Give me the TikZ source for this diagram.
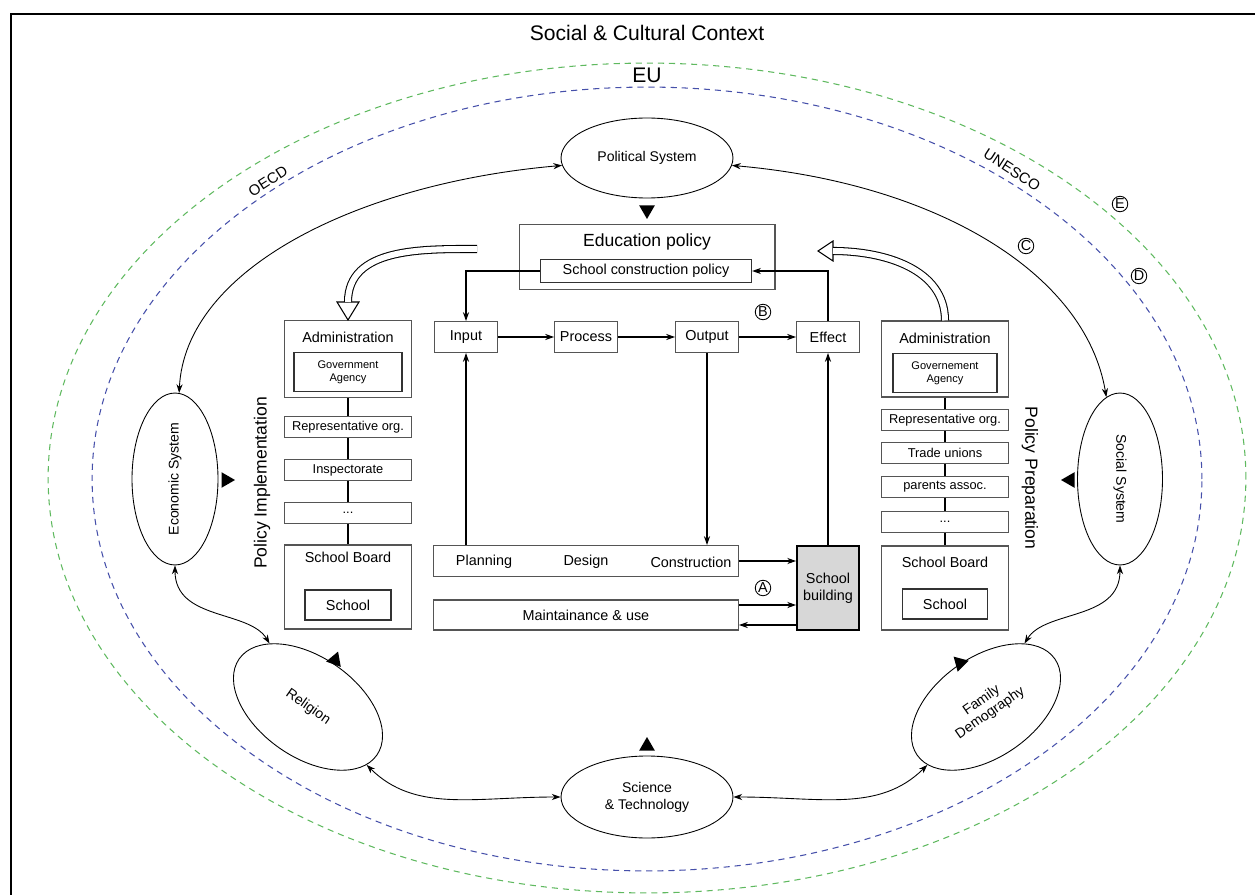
\documentclass[tikz,border=0pt]{standalone}
\usepackage{fontspec}
\setmainfont{Liberation Sans}
\usetikzlibrary{arrows.meta, positioning, shapes.geometric}
\definecolor{euGreen}{RGB}{95,185,95}
\definecolor{unBlue}{RGB}{70,80,170}
\definecolor{boxGrey}{RGB}{85,85,85}
\definecolor{buildingFill}{RGB}{215,215,215}
\def\titlesize{\fontsize{12}{14}\selectfont}
\def\headsize{\fontsize{10}{12}\selectfont}
\def\flowsize{\fontsize{8.2}{9.8}\selectfont}
\def\chainsize{\fontsize{7.3}{8.5}\selectfont}
\def\agencysize{\fontsize{6.3}{7.6}\selectfont}
\def\spheresize{\fontsize{8}{9.6}\selectfont}
\def\sidesize{\fontsize{10}{12}\selectfont}
\def\orgsize{\fontsize{8.5}{10}\selectfont}

\begin{document}
\begin{tikzpicture}[
	  x=0.02cm, y=-0.02cm,
	  box/.style={
	  	rectangle,
	  	draw=boxGrey,
	  	line width=0.6pt,
	  	inner sep=0pt,
	  	align=center
	  },
	  stage/.style={box, minimum width=1.26cm, minimum height=0.62cm, font=\flowsize},
	  chainbox/.style={box, minimum width=2.54cm, minimum height=0.41cm, font=\chainsize},
	  bigbox/.style={box, minimum width=2.54cm},
	  innerbox/.style={
		  rectangle,
		  draw=black!80,
		  line width=0.8pt,
		  inner sep=0pt,
		  align=center
	  },
	  sphere/.style={
		  ellipse,
		  draw,
		  line width=0.5pt,
		  inner sep=0pt,
		  align=center,
		  font=\spheresize
	  },
	  marker/.style={regular polygon, regular polygon sides=3, fill=black, inner sep=0pt, minimum size=0.36cm},
	  tag/.style={circle, draw, line width=0.5pt, inner sep=0pt, minimum size=0.31cm, font=\flowsize},
	  twoway/.style={{Stealth[length=5pt,width=3.5pt]}-{Stealth[length=5pt,width=3.5pt]}, line width=0.5pt},
	  flow/.style={-{Stealth[length=5pt,width=3.5pt]}, line width=0.6pt},
	  chain/.style={line width=1.1pt},
	  hollow/.style={draw=black, double=white, double distance=3.4pt, line width=0.6pt},
	  eudash/.style={euGreen, dash pattern=on 3.5pt off 2.8pt, line width=0.6pt},
	  undash/.style={unBlue, dash pattern=on 3.5pt off 2.8pt, line width=0.6pt}]
	\useasboundingbox (0,0) rectangle (1255,895);
	% Frame and context
	\draw[line width=0.9pt] (11,895) |- (1255,14);
	\node[font=\titlesize] (context) at (647,33) {Social \& Cultural Context};
	\draw[eudash] (647,478) ellipse [x radius=11.98cm, y radius=8.3cm];
	\draw[undash] (647,479) ellipse [x radius=11.1cm, y radius=7.84cm];
	\node[font=\titlesize] (eu) at (647,75) {EU};
	\node[font=\orgsize, rotate=33] (oecd) at (268,181) {OECD};
	\node[font=\orgsize, rotate=-33] (unesco) at (1012,170) {UNESCO};

	% Spheres
	\node[sphere, minimum width=3.44cm, minimum height=1.6cm] (political) at (647,158) {Political System};
	\node[sphere, minimum width=3.44cm, minimum height=1.72cm, rotate=90] (economic) at (175,479) {Economic System};
	\node[sphere, minimum width=3.44cm, minimum height=1.7cm, rotate=-90] (social) at (1120,479) {Social System};
	\node[sphere, minimum width=3.44cm, minimum height=1.64cm] (science) at (647,797) {Science\\\& Technology};
	\node[sphere, minimum width=3.36cm, minimum height=2cm, rotate=-35] (religion) at (308,707) {Religion};
	\node[sphere, minimum width=3.36cm, minimum height=2cm, rotate=35] (family) at (986,707) {Family\\[-1pt]Demography};

	\draw[twoway] (political) to[out=185,in=75] (economic);
	\draw[twoway] (political) to[out=-5,in=112] (social);
	\draw[twoway] (economic.west) to[out=-90,in=140] (religion);
	\draw[twoway] (religion) to[out=-29,in=180] (science.west);
	\draw[twoway] (science.east) to[out=0,in=-151] (family);
	\draw[twoway] (family) to[out=40,in=-90] (social.east);

	\node[marker, shape border rotate=180] (politicalMark) at (647,210) {};
	\node[marker] (scienceMark) at (647,746) {};
	\node[marker, shape border rotate=-90] (economicMark) at (226,480) {};
	\node[marker, shape border rotate=90] (socialMark) at (1070,480) {};
	\node[marker, shape border rotate=-20] (religionMark) at (335,660) {};
	\node[marker, shape border rotate=-75] (familyMark) at (960,663) {};

	% Education policy
	\node[box, minimum width=5.12cm, minimum height=1.3cm,
		label={[font=\headsize, anchor=north, yshift=-0.08cm]north:Education policy}] (eduPolicy) at (647,257) {};
	\node[innerbox, minimum width=4.22cm, minimum height=0.46cm, font=\flowsize] (constrPolicy) at (646,271) {School construction policy};

	% Policy cycle
	\node[stage] (input) at (466,337) {Input};
	\node[stage] (stageProcess) at (586,337) {Process};
	\node[stage] (output) at (707,337) {Output};
	\node[stage] (effect) at (828,337) {Effect};
	\node[box, minimum width=6.1cm, minimum height=0.62cm] (planBox) at (586,561) {};
	\node[font=\flowsize] (planning) at (484,562) {Planning};
	\node[font=\flowsize] (design) at (586,562) {Design};
	\node[font=\flowsize] (construction) at (691,562) {Construction};
	\node[box, minimum width=6.1cm, minimum height=0.6cm, font=\flowsize] (maint) at (586,615) {Maintainance \& use};
	\node[box, draw=black, line width=1.1pt, fill=buildingFill, minimum width=1.24cm, minimum height=1.68cm, font=\flowsize] (building) at (828,588) {School\\building};

	\draw[flow] (input) -- (stageProcess);
	\draw[flow] (stageProcess) -- (output);
	\draw[flow] (output) -- (effect);
	\draw[flow] (constrPolicy.west) -| (input.north);
	\draw[flow] (effect.north) |- (constrPolicy.east);
	\draw[flow] (output.south) -- (output.south |- planBox.north);
	\draw[flow] (input.south |- planBox.north) -- (input.south);
	\draw[flow] (planBox.east) -- (planBox.east -| building.west);
	\draw[flow] ([yshift=0.2cm]maint.east) -- ([yshift=0.2cm]maint.east -| building.west);
	\draw[flow] ([yshift=-0.2cm]maint.east -| building.west) -- ([yshift=-0.2cm]maint.east);
	\draw[flow] (building.north) -- (effect.south);

	% Policy implementation
	\node[bigbox, minimum height=1.54cm,
		label={[font=\flowsize, anchor=north, yshift=-0.12cm]north:Administration}] (implAdmin) at (348,359) {};
	\node[innerbox, minimum width=2.16cm, minimum height=0.78cm, font=\agencysize] (implAgency) at (348,372) {Government\\Agency};
	\node[chainbox] (implRep) at (348,427) {Representative org.};
	\node[chainbox] (implInsp) at (348,470) {Inspectorate};
	\node[chainbox] (implDots) at (348,513) {...};
	\node[bigbox, minimum height=1.68cm,
		label={[font=\flowsize, anchor=north, yshift=-0.02cm]north:School Board}] (implBoard) at (348,587) {};
	\node[innerbox, minimum width=1.72cm, minimum height=0.6cm, font=\flowsize] (implSchool) at (348,605) {School};
	\draw[chain] (implAdmin) -- (implRep) -- (implInsp) -- (implDots) -- (implBoard);
	\node[font=\sidesize, rotate=90] (implLabel) at (262,483) {Policy Implementation};

	% Policy preparation
	\node[bigbox, minimum height=1.52cm,
		label={[font=\flowsize, anchor=north, yshift=-0.12cm]north:Administration}] (prepAdmin) at (945,359) {};
	\node[innerbox, minimum width=2.08cm, minimum height=0.78cm, font=\agencysize] (prepAgency) at (945,373) {Governement\\Agency};
	\node[chainbox] (prepRep) at (945,420) {Representative org.};
	\node[chainbox] (prepUnion) at (945,453) {Trade unions};
	\node[chainbox] (prepParents) at (945,487) {parents assoc.};
	\node[chainbox] (prepDots) at (945,522) {...};
	\node[bigbox, minimum height=1.68cm,
		label={[font=\flowsize, anchor=north, yshift=-0.1cm]north:School Board}] (prepBoard) at (945,588) {};
	\node[innerbox, minimum width=1.7cm, minimum height=0.6cm, font=\flowsize] (prepSchool) at (945,604) {School};
	\draw[chain] (prepAdmin) -- (prepRep) -- (prepUnion) -- (prepParents) -- (prepDots) -- (prepBoard);
	\node[font=\sidesize, rotate=-90] (prepLabel) at (1030,478) {Policy Preparation};

	% Hollow arrows
	\coordinate (implStart) at (477,249);
	\coordinate[above=0.36cm of implAdmin.north] (implBase);
	\draw[fill=white, line width=0.6pt] (implAdmin.north) -- ++(-11,-18) -- ++(22,0) -- cycle;
	\draw[hollow] (implStart) to[out=180,in=90] (implBase);
	\coordinate (prepEnd) at (818,251);
	\coordinate[right=0.3cm of prepEnd] (prepBase);
	\draw[fill=white, line width=0.6pt] (prepEnd) -- ++(15,-10) -- ++(0,20) -- cycle;
	\draw[hollow] (prepAdmin.north) to[out=90,in=0] (prepBase);

	% Tags
	\node[tag] (tagA) at (763,588) {A};
	\node[tag] (tagB) at (763,312) {B};
	\node[tag] (tagC) at (1026,246) {C};
	\node[tag] (tagD) at (1139,276) {D};
	\node[tag] (tagE) at (1120,204) {E};
\end{tikzpicture}
\end{document}
